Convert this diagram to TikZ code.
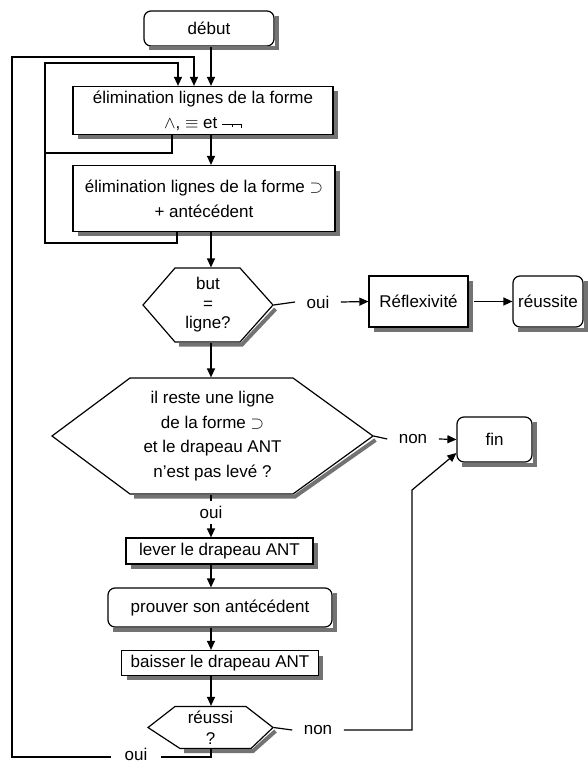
\documentclass[tikz,border=0pt]{standalone}
\usepackage{fontspec}
\setmainfont{Liberation Sans}
\usetikzlibrary{arrows.meta}
\newcommand\negsym{\rule[3.6pt]{10pt}{0.9pt}\rule[1pt]{0.9pt}{3.5pt}\rule[3.6pt]{8pt}{0.9pt}\rule[0.6pt]{0.9pt}{3.9pt}}
\begin{document}
\begin{tikzpicture}[x=1pt,y=-1pt,line width=1.2pt,
  font=\fontsize{17}{25}\selectfont,
  shadowline/.style={draw=black!55,line width=4pt,line join=miter},
  box/.style={draw,fill=white,inner sep=0pt,align=center},
  rbox/.style={box,rounded corners=7pt},
  hexn/.style={inner sep=0pt,align=center},
  hexshape/.style={draw,fill=white,line join=miter},
  arr/.style={-{Triangle[length=9pt,width=8pt]}},
  lblh/.style={inner xsep=11pt,inner ysep=2pt},
  lblv/.style={inner xsep=2pt,inner ysep=5pt}
]
\useasboundingbox (0,0) rectangle (588,765);

% hexagon outlines
\path[hexshape] (143,305) -- (175,268) -- (240,268) -- (273,305) -- (240,342) -- (175,342) -- cycle;
\path[hexshape] (52,436) -- (130,378) -- (293,378) -- (373,436) -- (293,494) -- (130,494) -- cycle;
\path[hexshape] (148,727.5) -- (175,706.5) -- (246,706.5) -- (273,727.5) -- (251,748.5) -- (180,748.5) -- cycle;

\coordinate (col) at (211,0);
\coordinate (a1) at (178,0);
\coordinate (a2) at (194,0);
\coordinate (aJ) at (172,0);
\coordinate (a0) at (177,0);
\coordinate (L1) at (12,57);
\coordinate (L2top) at (45,63);
\coordinate (L2bot) at (45,243);
\coordinate (J) at (45,153);
\coordinate (K) at (412,490);
\coordinate (B) at (0,757);

\node[rbox,minimum width=130pt,minimum height=35pt] (debut) at (209,28.5) {début};
\node[box,minimum width=260pt,minimum height=48pt] (b1) at (203,110.5)
  {élimination lignes de la forme\\$\wedge$, $\equiv$ et \negsym};
\node[box,minimum width=262pt,minimum height=66pt] (b2) at (204,198.5)
  {élimination lignes de la forme $\supset$\\+ antécédent};
\node[hexn,minimum width=130pt,minimum height=74pt,font=\fontsize{17}{19.5}\selectfont] (h1) at (208,305) {but\\=\\ligne?};
\node[box,minimum width=99pt,minimum height=51pt] (refl) at (418.5,301.5) {Réflexivité};
\node[rbox,minimum width=70pt,minimum height=51pt] (reuss) at (548,301.5) {réussite};
\node[hexn,minimum width=321pt,minimum height=116pt,font=\fontsize{17}{24.5}\selectfont] (h2) at (212.5,436)
  {il reste une ligne\\de la forme $\supset$\\et le drapeau ANT\\n'est pas levé ?};
\node[rbox,minimum width=75pt,minimum height=45pt] (fin) at (494.5,439.5) {fin};
\node[box,minimum width=187pt,minimum height=26pt] (lever) at (219.5,551) {lever le drapeau ANT};
\node[rbox,minimum width=224pt,minimum height=39pt] (prouver) at (220,607.5) {prouver son antécédent};
\node[box,minimum width=197pt,minimum height=25pt] (baisser) at (220,663) {baisser le drapeau ANT};
\node[hexn,minimum width=125pt,minimum height=42pt,font=\fontsize{17}{21}\selectfont] (r) at (210.5,727.5) {réussi\\?};

% shadows as thick grey strokes along right and bottom edges
\draw[shadowline] (276.5,16) -- (276.5,48.5) -- (149,48.5);
\draw[shadowline] (335.5,91.5) -- (335.5,137) -- (78,137);
\draw[shadowline] (337.5,170.5) -- (337.5,234) -- (78,234);
\draw[shadowline] (470.5,281) -- (470.5,329.5) -- (374,329.5);
\draw[shadowline] (585.5,281) -- (585.5,329.5) -- (518,329.5);
\draw[shadowline] (534.5,422) -- (534.5,464.5) -- (462,464.5);
\draw[shadowline] (315.5,543) -- (315.5,566.5) -- (131,566.5);
\draw[shadowline] (334.5,593) -- (334.5,629.5) -- (113,629.5);
\draw[shadowline] (321,655.5) -- (321,678) -- (126.5,678);
\draw[shadowline] (275.5,309) -- (242,344.5) -- (179,344.5);
\draw[shadowline] (375.5,440) -- (295,496.5) -- (134,496.5);
\draw[shadowline] (275.5,731) -- (253,751) -- (184,751);

\node[lblh] (oui1) at (318,302) {oui};
\node[lblh] (non1) at (413,439) {non};
\node[lblv] (ouiA) at (211,512.5) {oui};
\node[lblh] (non2) at (318,730) {non};
\node[inner xsep=13pt,inner ysep=2pt] (ouiB) at (136,754) {oui};

\draw[arr] (debut.south -| col) -- (b1.north -| col);
\draw[arr] (b1.south -| col) -- (b2.north -| col);
\draw[arr] (b2.south -| col) -- (h1.north -| col);
\draw[arr] (h1.south -| col) -- (h2.north -| col);
\draw (h2.south -| col) -- (ouiA.north);
\draw[arr] (ouiA.south) -- (lever.north -| col);
\draw[arr] (lever.south -| col) -- (prouver.north -| col);
\draw[arr] (prouver.south -| col) -- (baisser.north -| col);
\draw[arr] (baisser.south -| col) -- (r.north -| col);

\draw (h1.east) -- (oui1.west);
\draw[arr] (oui1.east) -- (refl.west);
\draw[arr] ([xshift=5pt]refl.east) -- (reuss.west);
\draw (h2.east) -- (non1.west);
\draw[arr] (non1.east) -- (fin.west);
\draw (r.east) -- (non2.west);
\draw[arr] (non2.east) -| (K) -- ([yshift=-13.5pt]fin.west);

\draw (r.south -| col) |- (ouiB.east |- B);
\draw[arr] (ouiB.west |- B) -| (L1) -| (b1.north -| a2);
\draw (b1.south -| aJ) |- (J);
\draw[arr] (b2.south -| a0) |- (L2bot) -- (L2top) -| (b1.north -| a1);
\end{tikzpicture}
\end{document}
